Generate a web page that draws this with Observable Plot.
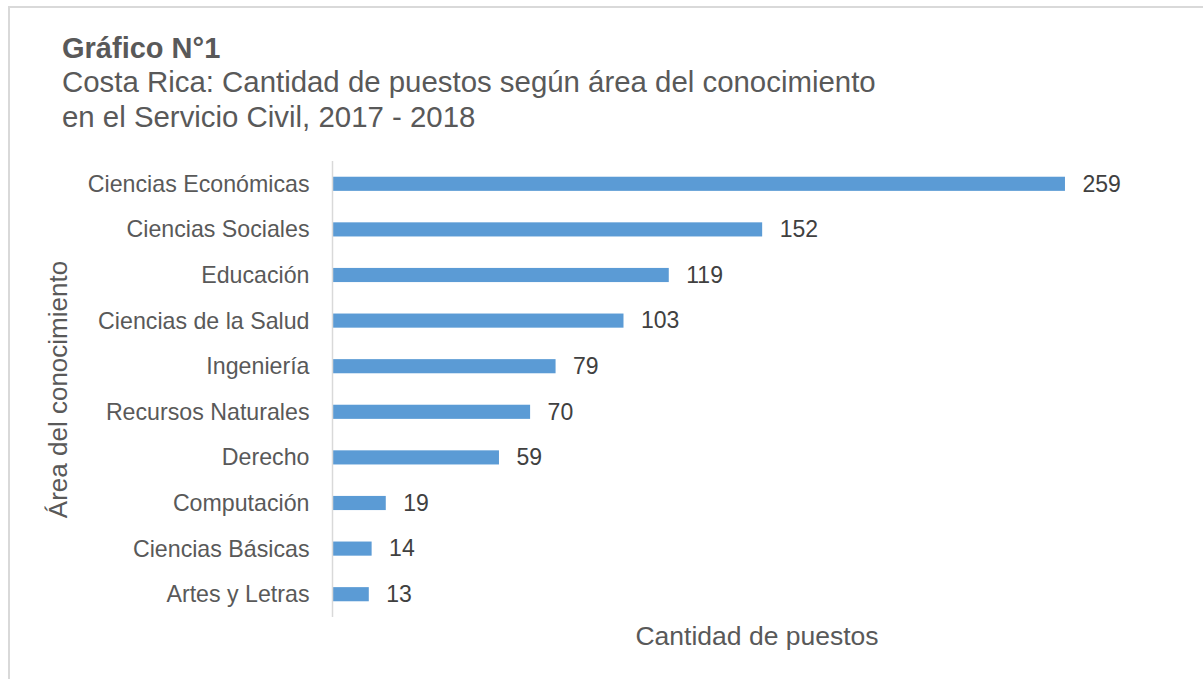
<!DOCTYPE html>
<html>
<head>
<meta charset="utf-8">
<script src="https://cdn.jsdelivr.net/npm/d3@7"></script>
<script src="https://cdn.jsdelivr.net/npm/@observablehq/plot@0.6"></script>
<style>
  html, body { margin: 0; padding: 0; background: #fff; }
  body { width: 1203px; height: 679px; position: relative; overflow: hidden; font-family: "Liberation Sans", Arial, sans-serif; }
  #frame { position: absolute; left: 8px; top: 6px; width: 1300px; height: 800px; border-top: 2px solid #d9d9d9; border-left: 2px solid #d9d9d9; }
  #titles { position: absolute; left: 62px; top: 30.5px; color: #595959; font-size: 29.4px; line-height: 34.5px; }
  #titles .t { font-weight: bold; font-size: 29px; }
  #chart { position: absolute; left: 0; top: 137px; }
</style>
</head>
<body>
<div id="frame"></div>
<div id="titles">
  <div class="t">Gráfico N°1</div>
  <div>Costa Rica: Cantidad de puestos según área del conocimiento</div>
  <div>en el Servicio Civil, 2017 - 2018</div>
</div>
<div id="chart"></div>
<script>
const areas = ["Ciencias Económicas", "Ciencias Sociales", "Educación", "Ciencias de la Salud", "Ingeniería", "Recursos Naturales", "Derecho", "Computación", "Ciencias Básicas", "Artes y Letras"];
const puestos = [259, 152, 119, 103, 79, 70, 59, 19, 14, 13];
const xTitle = "Cantidad de puestos";
const yTitle = "Área del conocimiento";

const data = areas.map((a, i) => ({area: a, value: puestos[i]}));

const chart = Plot.plot({
  width: 1203,
  height: 542,
  marginLeft: 332,
  marginRight: 22,
  marginTop: 24,
  marginBottom: 62,
  style: {fontFamily: '"Liberation Sans", Arial, sans-serif', background: "transparent"},
  x: {domain: [0, 300], axis: null},
  y: {domain: areas, paddingInner: 0.69, paddingOuter: 0.345, round: false, label: null},
  marks: [
    Plot.axisY({tickSize: 0, tickPadding: 23, fontSize: 23.2, fill: "#595959", label: null}),
    Plot.barX(data, {x: "value", y: "area", fill: "#5B9BD5"}),
    Plot.ruleX([0], {stroke: "#d9d9d9", strokeWidth: 1.5}),
    Plot.text(data, {x: "value", y: "area", text: d => String(d.value), textAnchor: "start", dx: 17, fontSize: 23, fill: "#404040"}),
    Plot.text([xTitle], {frameAnchor: "bottom", dy: 19, lineAnchor: "middle", fontSize: 26.5, fill: "#595959"}),
    Plot.text([yTitle], {frameAnchor: "left", dx: -274, rotate: -90, textAnchor: "middle", lineAnchor: "middle", fontSize: 26, fill: "#595959"})
  ]
});
document.getElementById("chart").appendChild(chart);
</script>
</body>
</html>
